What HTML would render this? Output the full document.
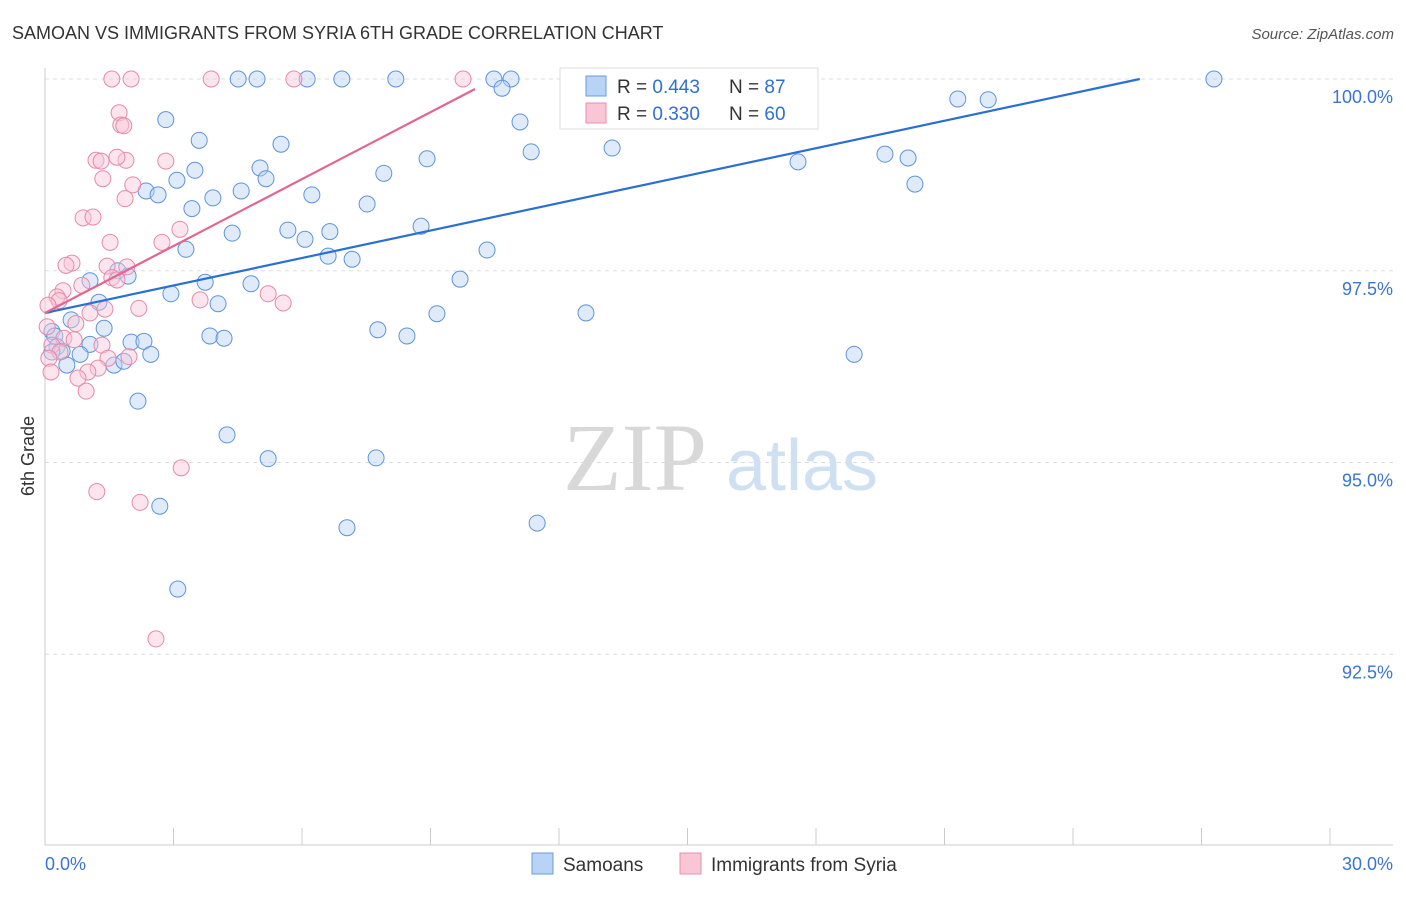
<!DOCTYPE html>
<html><head><meta charset="utf-8"><style>
body{margin:0;background:#fff;font-family:"Liberation Sans",sans-serif}
</style></head><body>
<svg id="chart" width="1406" height="892" xmlns="http://www.w3.org/2000/svg">
<text x="12" y="39" font-size="18" fill="#333">SAMOAN VS IMMIGRANTS FROM SYRIA 6TH GRADE CORRELATION CHART</text>
<text x="1394" y="39" font-size="15" fill="#555" font-style="italic" text-anchor="end">Source: ZipAtlas.com</text>
<text x="0" y="0" transform="translate(34,456) rotate(-90)" font-size="18" fill="#333" text-anchor="middle">6th Grade</text>
<g>
<text x="635" y="490" font-family="Liberation Serif" font-size="96" fill="#d8d8d8" text-anchor="middle">ZIP</text>
<text x="802" y="490" font-size="72" fill="#cfe0f3" text-anchor="middle">atlas</text>
</g>
<g id="grid"></g><g id="axes"></g><g id="pts"></g><g id="trend"></g>
<g>
<rect x="560" y="68" width="258" height="61" fill="#fff" stroke="#ddd"/>
<rect x="586" y="76" width="20" height="20" fill="#b8d3f5" stroke="#6a9be0"/>
<rect x="586" y="103" width="20" height="20" fill="#f9c6d6" stroke="#ea8eaf"/>
<text x="617" y="93" font-size="19" fill="#333">R = <tspan fill="#2f6fd6">0.443</tspan></text>
<text x="729" y="93" font-size="19" fill="#333">N = <tspan fill="#2f6fd6">87</tspan></text>
<text x="617" y="120" font-size="19" fill="#333">R = <tspan fill="#2f6fd6">0.330</tspan></text>
<text x="729" y="120" font-size="19" fill="#333">N = <tspan fill="#2f6fd6">60</tspan></text>
</g>
<g>
<rect x="532" y="853" width="21" height="21" fill="#b8d3f5" stroke="#6a9be0"/>
<text x="563" y="871" font-size="19" fill="#333">Samoans</text>
<rect x="680" y="853" width="21" height="21" fill="#f9c6d6" stroke="#ea8eaf"/>
<text x="711" y="871" font-size="19" fill="#333">Immigrants from Syria</text>
</g>
</svg>
<script>
const yTicks=[100,97.5,95,92.5];
const yTickLabels=["100.0%","97.5%","95.0%","92.5%"];
const xTickLabels=["0.0%","30.0%"];
const blueX=[12.35,4.51,4.95,6.12,6.93,8.19,10.48,10.88,27.29,14.96,10.67,21.31,22.02,2.82,11.09,3.60,5.51,11.35,13.24,8.92,19.61,20.15,17.58,5.02,3.50,7.91,3.08,5.16,20.31,2.36,2.64,4.58,3.92,6.23,3.43,7.52,8.78,4.37,5.67,6.65,6.07,3.29,10.32,6.61,7.17,1.70,1.94,1.05,3.74,9.69,4.81,2.94,1.26,4.04,12.63,9.15,0.61,1.38,7.77,8.45,3.85,4.18,0.16,0.23,2.01,2.31,1.05,0.28,0.40,0.16,0.82,2.47,18.89,1.61,1.84,0.51,2.17,4.25,5.21,7.73,2.68,7.05,11.49,3.10];
const blueY=[100,100,100,100,100,100,100,100,100,100,99.88,99.74,99.73,99.47,99.44,99.20,99.15,99.05,99.10,98.96,99.02,98.97,98.92,98.84,98.81,98.77,98.68,98.70,98.63,98.54,98.49,98.54,98.45,98.49,98.31,98.37,98.08,97.99,98.03,98.01,97.91,97.78,97.77,97.69,97.65,97.50,97.43,97.37,97.35,97.39,97.33,97.20,97.09,97.07,96.95,96.94,96.86,96.75,96.73,96.65,96.65,96.62,96.71,96.65,96.57,96.58,96.54,96.51,96.45,96.44,96.41,96.41,96.41,96.27,96.32,96.27,95.80,95.36,95.05,95.06,94.43,94.15,94.21,93.35];
const pinkX=[1.56,2.01,3.88,5.81,9.76,1.73,1.77,1.84,1.19,1.31,1.89,1.68,2.82,1.35,2.05,1.87,0.89,1.12,3.15,1.52,2.73,0.63,0.49,1.45,1.91,1.56,0.86,1.68,0.42,0.28,0.33,3.62,5.21,5.56,0.07,1.05,2.19,1.40,0.72,0.05,0.44,0.68,0.16,1.33,0.35,0.09,1.47,1.96,1.24,1.00,0.14,0.77,0.96,3.18,1.21,2.22,2.59];
const pinkY=[100,100,100,100,100,99.56,99.40,99.39,98.94,98.93,98.94,98.98,98.93,98.70,98.62,98.44,98.19,98.20,98.04,97.87,97.87,97.60,97.57,97.56,97.55,97.41,97.31,97.38,97.24,97.16,97.11,97.12,97.20,97.08,97.05,96.95,97.01,97.00,96.81,96.77,96.62,96.60,96.53,96.53,96.44,96.36,96.36,96.38,96.23,96.18,96.18,96.10,95.93,94.93,94.62,94.48,92.70];
const blueTrendX=[0,25.56], blueTrendY=[96.95,100];
const pinkTrendX=[0,10.04], pinkTrendY=[96.95,99.87];
const X=v=>45+v/30*1285;
const Y=v=>79+(100-v)*76.7;
const NS="http://www.w3.org/2000/svg";
function mk(t,a,p){const e=document.createElementNS(NS,t);for(const k in a)e.setAttribute(k,a[k]);p.appendChild(e);return e;}
const grid=document.getElementById('grid'),axes=document.getElementById('axes'),pts=document.getElementById('pts'),tr=document.getElementById('trend');
yTicks.forEach((v,i)=>{
 const l=mk('line',{x1:45,x2:1393,y1:Y(v),y2:Y(v),stroke:'#ddd','stroke-dasharray':'4,4'},grid);
 
 
 const t=mk('text',{x:1393,y:Y(v)+24,'font-size':18,fill:'#3a74d4','text-anchor':'end'},axes);
 t.textContent=yTickLabels[i];
 
 
});
mk('line',{x1:45,x2:45,y1:68,y2:845,stroke:'#ccc'},axes);
mk('line',{x1:45,x2:1393,y1:845,y2:845,stroke:'#ccc'},axes);
for(let i=0;i<=10;i++){const tk=mk('line',{x1:X(i*3),x2:X(i*3),y1:828,y2:845,stroke:'#ccc'},axes);
 
 }
[[0,'start',45],[1,'end',1393]].forEach(([i,a,x])=>{const t=mk('text',{x:x,y:870,'font-size':18,fill:'#3a74d4','text-anchor':a},axes);t.textContent=xTickLabels[i];
 
 });
function dots(xs,ys,fill,stroke,name){xs.forEach((x,i)=>{const c=mk('circle',{cx:X(x),cy:Y(ys[i]),r:8,fill:fill,'fill-opacity':0.45,stroke:stroke,'stroke-width':1},pts);
 
 });}
dots(blueX,blueY,'#b8d3f5','#5f93db','samoan-point');
dots(pinkX,pinkY,'#f9c6d6','#e889aa','syria-point');
const bl=mk('line',{x1:X(blueTrendX[0]),y1:Y(blueTrendY[0]),x2:X(blueTrendX[1]),y2:Y(blueTrendY[1]),stroke:'#2a6fd6','stroke-width':2.2},tr);


const pl=mk('line',{x1:X(pinkTrendX[0]),y1:Y(pinkTrendY[0]),x2:X(pinkTrendX[1]),y2:Y(pinkTrendY[1]),stroke:'#e4658f','stroke-width':2.2},tr);


</script>
</body></html>
